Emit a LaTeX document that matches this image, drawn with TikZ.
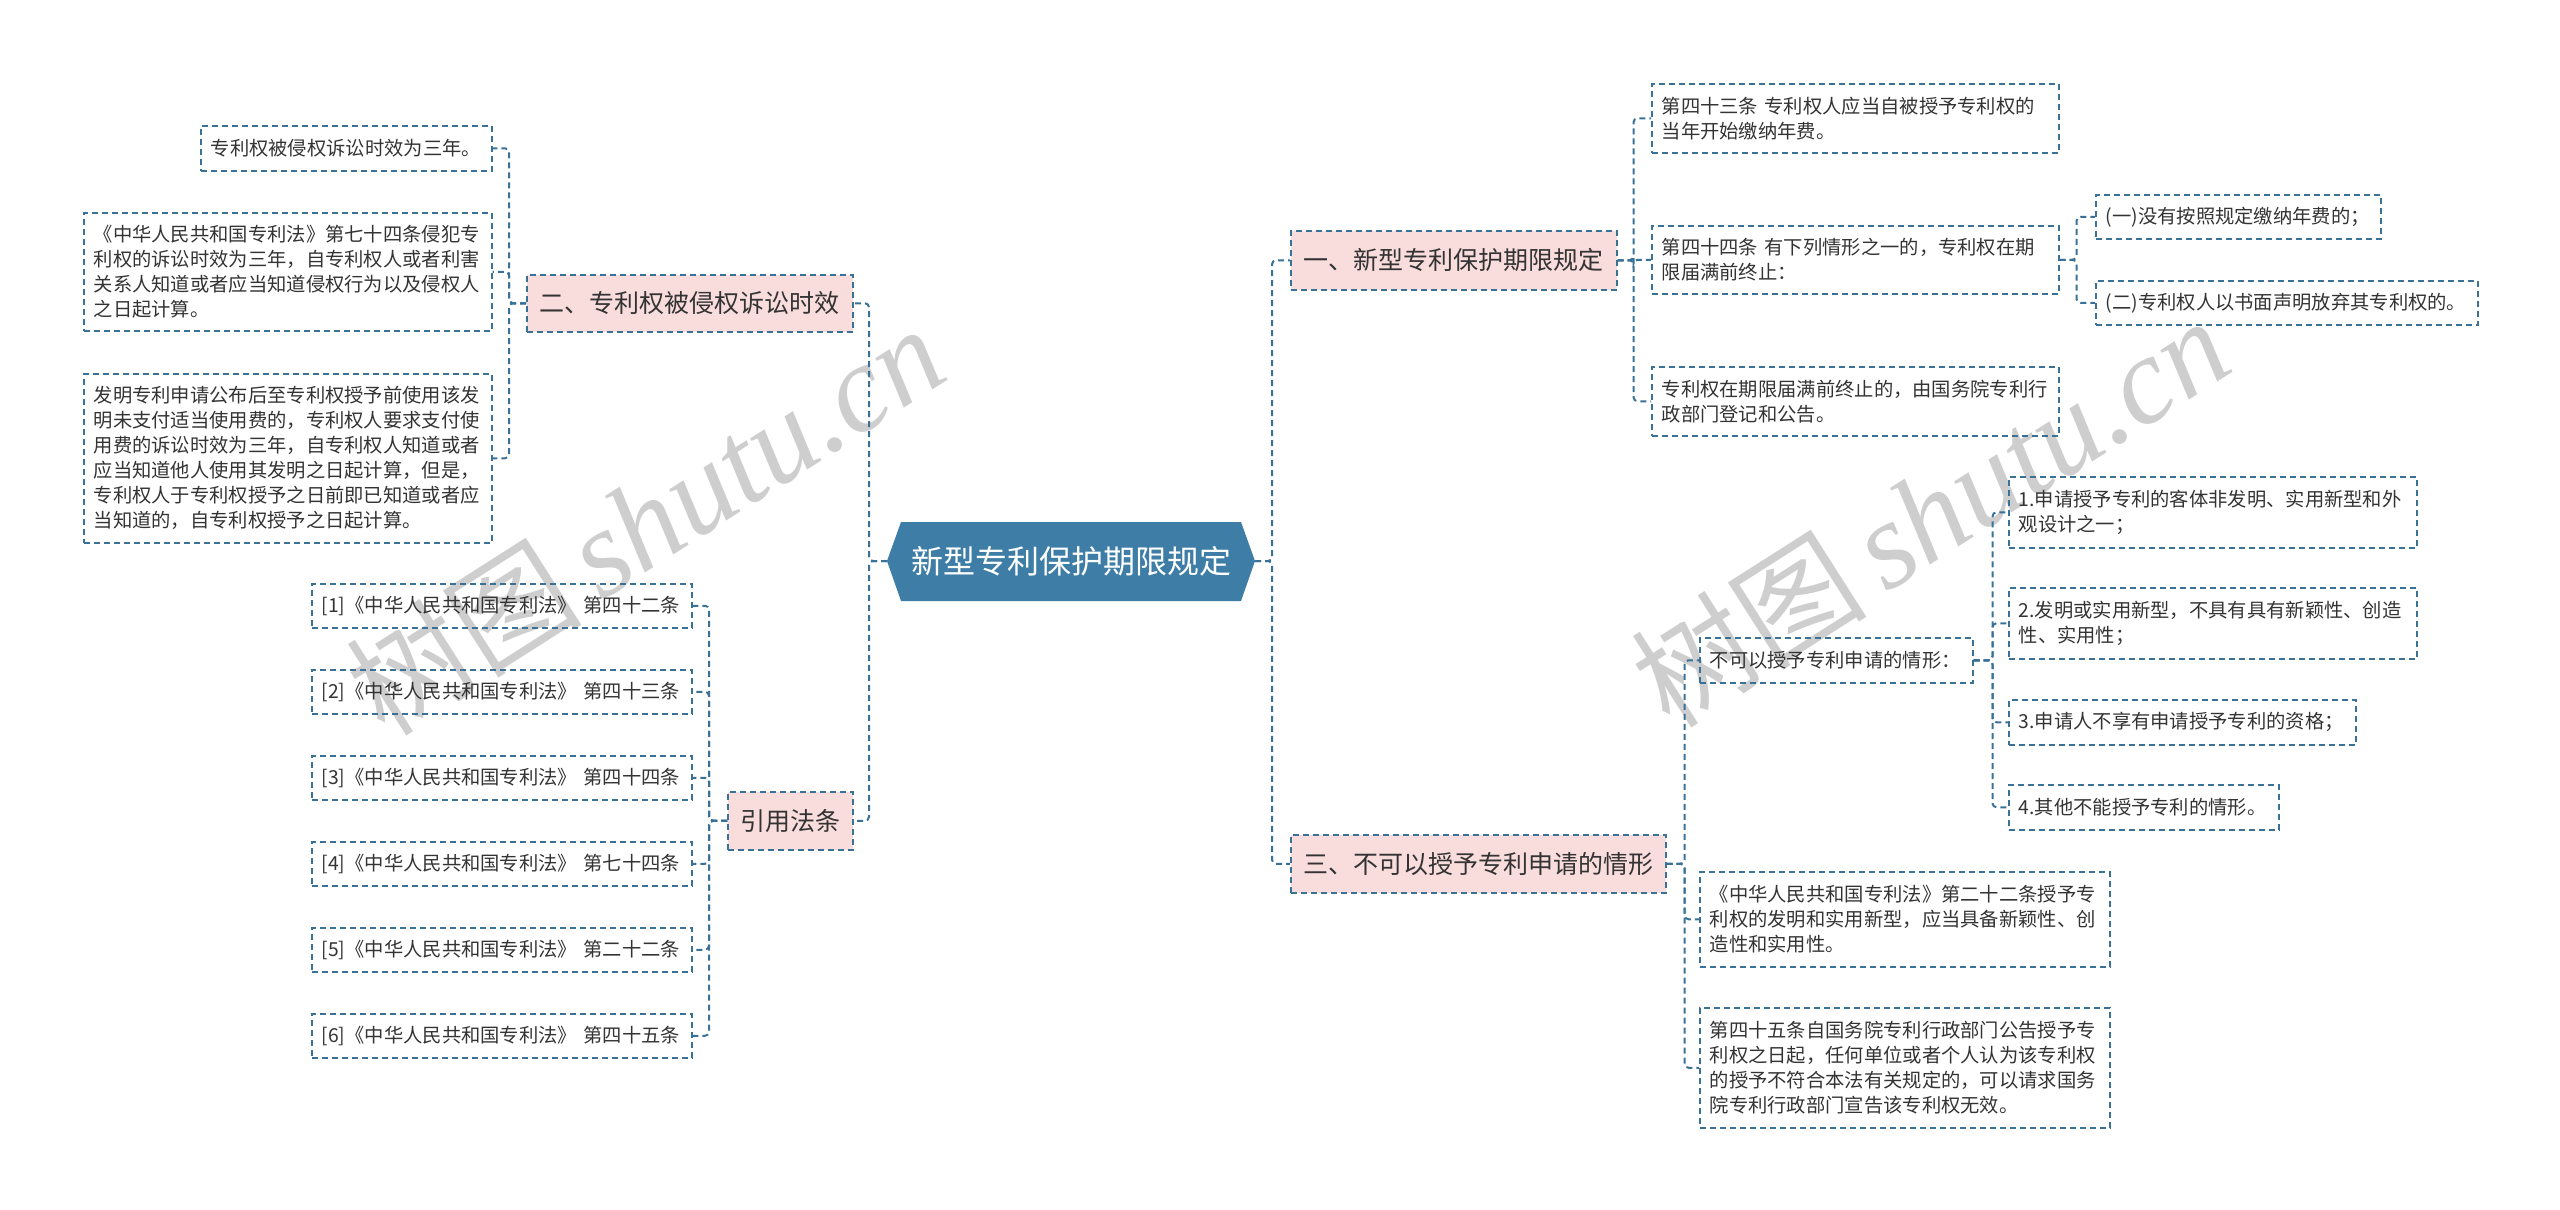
\documentclass[tikz,border=0pt]{standalone}
\usepackage{fontspec}
\setmainfont{Liberation Sans}
\newfontfamily\cjk{Noto Sans CJK SC}
\newfontfamily\wmserif{Liberation Serif}
\usetikzlibrary{calc}
\definecolor{lineblue}{HTML}{3A7197}
\definecolor{hexblue}{HTML}{3E7DA6}
\definecolor{pinkfill}{HTML}{F9DCDC}
\definecolor{txt}{HTML}{333333}
\definecolor{wmgray}{HTML}{CECECE}
\begin{document}
\begin{tikzpicture}[x=1pt,y=-1pt,
  leaf/.style={draw=lineblue, line width=1.5pt, dash pattern=on 6pt off 4pt,
    anchor=north west, inner xsep=10pt, inner ysep=0pt, align=left,
    font=\cjk\fontsize{19.3}{25}\selectfont, text=txt},
  lvl/.style={draw=lineblue, fill=pinkfill, line width=1.5pt, dash pattern=on 6pt off 4pt,
    anchor=north west, inner sep=0pt, align=center,
    font=\cjk\fontsize{25}{30}\selectfont, text=txt},
  conn/.style={draw=lineblue, line width=2pt, dash pattern=on 6pt off 4pt, rounded corners=4pt},
  wm/.style={text=wmgray, inner sep=0pt}
]
\useasboundingbox (0,0) rectangle (2560,1210);

% watermarks
\node[wm, rotate=32.5] (wmA) at (645,520) {\cjk\fontsize{118}{118}\selectfont 树图\,\wmserif\fontsize{124}{124}\selectfont\itshape shutu.cn};
\node[wm, rotate=32.5] (wmB) at (1930,512) {\cjk\fontsize{118}{118}\selectfont 树图\,\wmserif\fontsize{124}{124}\selectfont\itshape shutu.cn};

% center
\path[fill=hexblue] (887,561) -- (901,522) -- (1241,522) -- (1255,561) -- (1241,601) -- (901,601) -- cycle;
\coordinate (cL) at (887,561);
\coordinate (cR) at (1255,561);
\node[text=white, font=\cjk\fontsize{32}{36}\selectfont, inner sep=0pt] (center) at (1071,561) {新型专利保护期限规定};

% level 1
\node[lvl, minimum width=326pt, minimum height=57pt] (n2) at (526,274) {二、专利权被侵权诉讼时效};
\node[lvl, minimum width=125pt, minimum height=58pt] (yin) at (727,791) {引用法条};
\node[lvl, minimum width=326pt, minimum height=59pt] (n1) at (1290,230) {一、新型专利保护期限规定};
\node[lvl, minimum width=375pt, minimum height=58pt] (n3) at (1290,834) {三、不可以授予专利申请的情形};

% left leaves
\node[leaf, minimum width=291pt, text width=271pt, minimum height=45pt] (L1) at (200,125) {专利权被侵权诉讼时效为三年。};
\node[leaf, minimum width=408pt, text width=388pt, minimum height=118pt] (L2) at (83,212) {《中华人民共和国专利法》第七十四条侵犯专\\利权的诉讼时效为三年，自专利权人或者利害\\关系人知道或者应当知道侵权行为以及侵权人\\之日起计算。};
\node[leaf, minimum width=408pt, text width=388pt, minimum height=169pt] (L3) at (83,373) {发明专利申请公布后至专利权授予前使用该发\\明未支付适当使用费的，专利权人要求支付使\\用费的诉讼时效为三年，自专利权人知道或者\\应当知道他人使用其发明之日起计算，但是，\\专利权人于专利权授予之日前即已知道或者应\\当知道的，自专利权授予之日起计算。};

\node[leaf, minimum width=380pt, text width=360pt, minimum height=44pt] (r1) at (311,583) {[1]《中华人民共和国专利法》 第四十二条};
\node[leaf, minimum width=380pt, text width=360pt, minimum height=44pt] (r2) at (311,669) {[2]《中华人民共和国专利法》 第四十三条};
\node[leaf, minimum width=380pt, text width=360pt, minimum height=44pt] (r3) at (311,755) {[3]《中华人民共和国专利法》 第四十四条};
\node[leaf, minimum width=380pt, text width=360pt, minimum height=44pt] (r4) at (311,841) {[4]《中华人民共和国专利法》 第七十四条};
\node[leaf, minimum width=380pt, text width=360pt, minimum height=44pt] (r5) at (311,927) {[5]《中华人民共和国专利法》 第二十二条};
\node[leaf, minimum width=380pt, text width=360pt, minimum height=44pt] (r6) at (311,1013) {[6]《中华人民共和国专利法》 第四十五条};

% right leaves
\node[leaf, minimum width=407pt, text width=387pt, minimum height=69pt] (c1) at (1651,83) {第四十三条 专利权人应当自被授予专利权的\\当年开始缴纳年费。};
\node[leaf, minimum width=407pt, text width=387pt, minimum height=68pt] (c2) at (1651,225) {第四十四条 有下列情形之一的，专利权在期\\限届满前终止：};
\node[leaf, minimum width=407pt, text width=387pt, minimum height=69pt] (c3) at (1651,366) {专利权在期限届满前终止的，由国务院专利行\\政部门登记和公告。};
\node[leaf, minimum width=285pt, text width=265pt, minimum height=44pt] (g1) at (2095,194) {(一)没有按照规定缴纳年费的；};
\node[leaf, minimum width=382pt, text width=362pt, minimum height=44pt] (g2) at (2095,280) {(二)专利权人以书面声明放弃其专利权的。};

\node[leaf, minimum width=273pt, text width=253pt, minimum height=45pt] (d1) at (1699,637) {不可以授予专利申请的情形：};
\node[leaf, minimum width=408pt, text width=388pt, minimum height=71pt] (k1) at (2008,476) {1.申请授予专利的客体非发明、实用新型和外\\观设计之一；};
\node[leaf, minimum width=408pt, text width=388pt, minimum height=71pt] (k2) at (2008,587) {2.发明或实用新型，不具有具有新颖性、创造\\性、实用性；};
\node[leaf, minimum width=347pt, text width=327pt, minimum height=45pt] (k3) at (2008,699) {3.申请人不享有申请授予专利的资格；};
\node[leaf, minimum width=270pt, text width=250pt, minimum height=45pt] (k4) at (2008,784) {4.其他不能授予专利的情形。};
\node[leaf, minimum width=410pt, text width=390pt, minimum height=95pt] (m1) at (1699,871) {《中华人民共和国专利法》第二十二条授予专\\利权的发明和实用新型，应当具备新颖性、创\\造性和实用性。};
\node[leaf, minimum width=410pt, text width=390pt, minimum height=120pt] (m2) at (1699,1007) {第四十五条自国务院专利行政部门公告授予专\\利权之日起，任何单位或者个人认为该专利权\\的授予不符合本法有关规定的，可以请求国务\\院专利行政部门宣告该专利权无效。};

% connectors
\draw[conn] (cL) -- ++(-18,0) |- (n2.east);
\draw[conn] (cL) -- ++(-18,0) |- (yin.east);
\draw[conn] (cR) -- ++(17,0) |- (n1.west);
\draw[conn] (cR) -- ++(17,0) |- (n3.west);

\foreach \c in {L1,L2,L3} \draw[conn] (n2.west) -- ++(-17,0) |- (\c.east);
\foreach \c in {r1,r2,r3,r4,r5,r6} \draw[conn] (yin.west) -- ++(-18,0) |- (\c.east);
\foreach \c in {c1,c2,c3} \draw[conn] (n1.east) -- ++(16,0) |- (\c.west);
\foreach \c in {g1,g2} \draw[conn] (c2.east) -- ++(17,0) |- (\c.west);
\foreach \c in {d1,m1,m2} \draw[conn] (n3.east) -- ++(18,0) |- (\c.west);
\foreach \c in {k1,k2,k3,k4} \draw[conn] (d1.east) -- ++(19,0) |- (\c.west);
\end{tikzpicture}
\end{document}
